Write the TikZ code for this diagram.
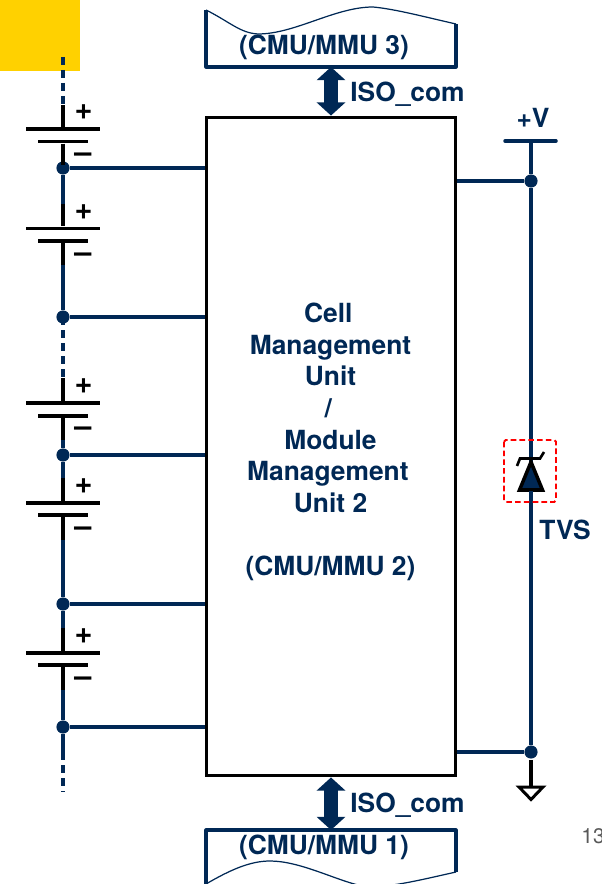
\documentclass[tikz,border=0pt]{standalone}
\usepackage{fontspec}
\setmainfont{TeX Gyre Heros}
\usetikzlibrary{arrows.meta}
\definecolor{navy}{HTML}{002855}
\definecolor{marker}{HTML}{FFD100}
\tikzset{
    wire/.style={draw=navy,line width=2pt},
    lead/.style={draw=black,line width=2pt},
    dashwire/.style={wire,dash pattern=on 4.5pt off 2.9pt},
    junction/.style={circle,fill=navy,inner sep=0pt,minimum size=7.5pt},
    longplate/.style={fill=black,inner sep=0pt,minimum width=42.5pt,minimum height=2pt},
    shortplate/.style={fill=black,inner sep=0pt,minimum width=28.5pt,minimum height=2pt},
    pole/.style={text=black,inner sep=0pt,font=\fontsize{17.5}{18}\selectfont\bfseries},
    label/.style={text=navy,inner sep=0pt,align=center,font=\fontsize{15}{18}\selectfont\bfseries},
    bus/.style={navy,line width=8pt,{Triangle[width=16pt,length=7.5pt]}-{Triangle[width=16pt,length=7.5pt]}}
}
\begin{document}
\begin{tikzpicture}[x=0.02cm,y=-0.02cm]
            \useasboundingbox (0,0) rectangle (601,884);
            \fill[marker] (0,0) rectangle (80,71);

            \node[draw=black,line width=2pt,minimum width=141.7pt,minimum height=374.7pt,inner sep=0pt] (cmu2) at (331,446.5) {};
            \node[label] (cmu2text) at (330.5,442) {\hspace*{-2.5pt}Cell\\Management\\Unit\\\hspace*{-2.5pt}/\\Module\\\hspace*{-3pt}Management\\Unit 2\\\\(CMU/MMU 2)};

            \coordinate (cmu3sw) at (206,67);
            \coordinate (cmu3se) at (456,67);
            \coordinate (cmu3nw) at (206,10);
            \coordinate (cmu3ne) at (456,24);
            \coordinate (cmu3s) at (331,67);
            \draw[navy,line width=1.8pt,line join=round] (cmu3nw)--(cmu3sw)--(cmu3se)--(cmu3ne);
            \draw[navy,line width=0.7pt] (cmu3nw) .. controls (230,22) and (240,33) .. (258,34) .. controls (295,34) and (335,7) .. (373,7) .. controls (395,9) and (425,17) .. (cmu3ne);
            \node[label] (cmu3text) at (324,47.5) {(CMU/MMU 3)};

            \coordinate (cmu1nw) at (206,830);
            \coordinate (cmu1ne) at (456,830);
            \coordinate (cmu1sw) at (206,884);
            \coordinate (cmu1se) at (456,872);
            \coordinate (cmu1n) at (331,830);
            \draw[navy,line width=1.8pt,line join=round] (cmu1sw)--(cmu1nw)--(cmu1ne)--(cmu1se);
            \draw[navy,line width=0.7pt] (cmu1sw) .. controls (230,870) and (250,861) .. (270,861) .. controls (300,861) and (335,880) .. (362,886) .. controls (385,889) and (420,880) .. (cmu1se);
            \node[label] (cmu1text) at (324,847.5) {(CMU/MMU 1)};

            \draw[bus] (cmu3s)--(cmu2.north);
            \draw[bus] (cmu2.south)--(cmu1n);
            \node[label,anchor=west] (isotop) at (350,94) {ISO\_com};
            \node[label,anchor=west] (isobot) at (350,805) {ISO\_com};

            \coordinate (top) at (63,57);
            \coordinate (bottom) at (63,792);
            \coordinate (tail) at (63,752);
            \coordinate (b1t) at (63,105);
            \coordinate (b1b) at (63,165);
            \coordinate (b2t) at (63,204);
            \coordinate (b2b) at (63,265);
            \coordinate (b3t) at (63,378);
            \coordinate (b3b) at (63,440);
            \coordinate (b4t) at (63,478);
            \coordinate (b4b) at (63,540);
            \coordinate (b5t) at (63,628);
            \coordinate (b5b) at (63,690);

            \node[junction] (j1) at (63,168) {};
            \node[junction] (j2) at (63,317) {};
            \node[junction] (j3) at (63,455) {};
            \node[junction] (j4) at (63,604) {};
            \node[junction] (j5) at (63,727) {};

            \draw[dashwire] (top)--(b1t);
            \draw[wire] (b1b)--(j1);
            \draw[wire] (j1)--(b2t);
            \draw[wire] (b2b)--(j2);
            \draw[dashwire] (j2.center)--(b3t);
            \draw[wire] (b3b)--(j3);
            \draw[wire] (j3)--(b4t);
            \draw[wire] (b4b)--(j4);
            \draw[wire] (j4)--(b5t);
            \draw[wire] (b5b)--(j5);
            \draw[wire] (j5)--(tail);
            \draw[dashwire] (tail)--(bottom);

            \draw[wire] (j1)--(j1-|cmu2.west);
            \draw[wire] (j2)--(j2-|cmu2.west);
            \draw[wire] (j3)--(j3-|cmu2.west);
            \draw[wire] (j4)--(j4-|cmu2.west);
            \draw[wire] (j5)--(j5-|cmu2.west);

            \node[longplate] (b1p) at (63,129) {};
            \node[shortplate] (b1n) at (63,141.5) {};
            \node[longplate] (b2p) at (63,228.5) {};
            \node[shortplate] (b2n) at (63,241) {};
            \node[longplate] (b3p) at (63,403) {};
            \node[shortplate] (b3n) at (63,416) {};
            \node[longplate] (b4p) at (63,503) {};
            \node[shortplate] (b4n) at (63,515) {};
            \node[longplate] (b5p) at (63,653) {};
            \node[shortplate] (b5n) at (63,665) {};

            \draw[lead] (b1t)--(b1p);
            \draw[lead] (b1n)--(b1b);
            \draw[lead] (b2t)--(b2p);
            \draw[lead] (b2n)--(b2b);
            \draw[lead] (b3t)--(b3p);
            \draw[lead] (b3n)--(b3b);
            \draw[lead] (b4t)--(b4p);
            \draw[lead] (b4n)--(b4b);
            \draw[lead] (b5t)--(b5p);
            \draw[lead] (b5n)--(b5b);

            \node[pole] (b1plus) at (83.5,112) {+};
            \node[pole] (b1minus) at (83,158) {--};
            \node[pole] (b2plus) at (83.5,212) {+};
            \node[pole] (b2minus) at (83,258) {--};
            \node[pole] (b3plus) at (83.5,386) {+};
            \node[pole] (b3minus) at (83,432) {--};
            \node[pole] (b4plus) at (83.5,486) {+};
            \node[pole] (b4minus) at (83,532) {--};
            \node[pole] (b5plus) at (83.5,636) {+};
            \node[pole] (b5minus) at (83,682) {--};

            \coordinate (vbarl) at (505,141);
            \coordinate (vbarr) at (556,141);
            \coordinate (vtap) at (531,141);
            \node[junction] (j6) at (531,181) {};
            \node[junction] (j7) at (531,752) {};
            \coordinate (gnd) at (531,786);
            \coordinate (gndl) at (519,787);
            \coordinate (gndr) at (543,787);
            \coordinate (gndb) at (531,799.5);

            \draw[wire,line cap=round] (vbarl)--(vbarr);
            \draw[wire] (vtap)--(j6);
            \draw[wire] (j6)--(j7);
            \draw[wire] (j6)--(j6-|cmu2.east);
            \draw[wire] (j7)--(j7-|cmu2.east);
            \draw[lead] (531,760)--(gnd);
            \draw[lead,line width=1.7pt,line join=miter] (gndl)--(gndr)--(gndb)--cycle;
            \node[label] (vlabel) at (533,118) {+V};

            \draw[draw=red,line width=1.1pt,dash pattern=on 3.2pt off 1.8pt,rounded corners=1pt] (504,440) rectangle (556,502);
            \draw[draw=black,fill=navy,line width=2pt,line join=miter] (531,462)--(542.5,490)--(519.5,490)--cycle;
            \draw[lead,line width=1.5pt] (517,466)--(520,458.5)--(540,458.5)--(544,452);
            \draw[wire] (531,491)--(531,498);
            \node[label] (tvslabel) at (565,530) {TVS};

            \node[text=black!65,inner sep=0pt,anchor=west,font=\fontsize{12}{14}\selectfont] (pagenum) at (581,836) {13};
        \end{tikzpicture}
\end{document}
